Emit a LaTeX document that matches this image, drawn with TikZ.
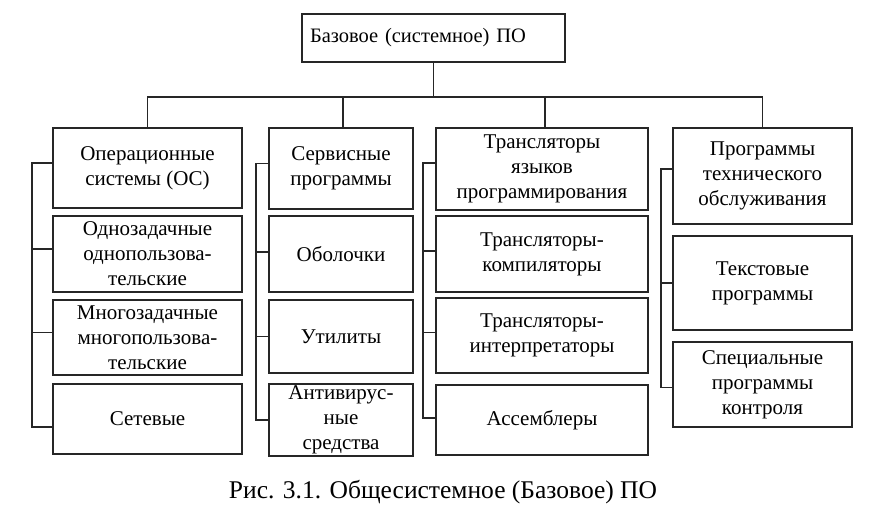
\documentclass[tikz,border=0pt]{standalone}
\usepackage{fontspec}
\setmainfont{Liberation Serif}
\begin{document}
\begin{tikzpicture}[x=1pt,y=-1pt,
  bx/.style={draw=black!85,line width=1.6pt,rectangle,inner sep=0pt,align=center,
    font=\fontsize{21}{25}\selectfont,text=black},
  ln/.style={draw=black!85,line width=1.6pt}]
\useasboundingbox (0,0) rectangle (875,515);
% top
\node[bx,minimum width=263,minimum height=48,align=left,text width=247,font=\fontsize{20.5}{25}\selectfont] (top) at (433.5,38) {Базовое (системное) ПО};
% column 1
\node[bx,minimum width=189,minimum height=80] (c1a) at (147.5,168) {Операционные\\системы (ОС)};
\node[bx,minimum width=189,minimum height=76] (c1b) at (147.5,254) {Однозадачные\\однопользова-\\тельские};
\node[bx,minimum width=189,minimum height=75] (c1c) at (147.5,337.5) {Многозадачные\\многопользова-\\тельские};
\node[bx,minimum width=189,minimum height=70] (c1d) at (147.5,419) {Сетевые};
% column 2
\node[bx,minimum width=144,minimum height=81] (c2a) at (341,168.5) {Сервисные\\программы};
\node[bx,minimum width=144,minimum height=76] (c2b) at (341,254) {Оболочки};
\node[bx,minimum width=144,minimum height=73] (c2c) at (341,336.5) {Утилиты};
\node[bx,minimum width=144,minimum height=72] (c2d) at (341,420) {Антивирус-\\ные\\средства};
% column 3
\node[bx,minimum width=212,minimum height=82] (c3a) at (542,169) {Трансляторы\\языков\\программирования};
\node[bx,minimum width=212,minimum height=76] (c3b) at (542,254) {Трансляторы-\\компиляторы};
\node[bx,minimum width=212,minimum height=75] (c3c) at (542,335.5) {Трансляторы-\\интерпретаторы};
\node[bx,minimum width=212,minimum height=70] (c3d) at (542,420) {Ассемблеры};
% column 4
\node[bx,minimum width=179,minimum height=96] (c4a) at (762.5,176) {Программы\\технического\\обслуживания};
\node[bx,minimum width=179,minimum height=94] (c4b) at (762.5,283) {Текстовые\\программы};
\node[bx,minimum width=179,minimum height=85] (c4c) at (762.5,384.5) {Специальные\\программы\\контроля};
% caption
\node[font=\fontsize{25.5}{30}\selectfont] (cap) at (443,492) {Рис. 3.1. Общесистемное (Базовое) ПО};
% tree connectors
\coordinate (bus) at (433.5,97);
\draw[ln] (top.south) -- (bus);
\draw[ln] (c1a.north) |- (bus) -| (c4a.north);
\draw[ln] ([xshift=2]c2a.north) -- ([xshift=2]c2a.north |- bus);
\draw[ln] ([xshift=3]c3a.north) -- ([xshift=3]c3a.north |- bus);
% brackets
\draw[ln] ([yshift=5]c1a.west) -- ++(-20,0) |- ([yshift=-8]c1d.west);
\draw[ln] ([yshift=5]c1b.west) -- ++(-20,0);
\draw[ln] ([yshift=5]c1c.west) -- ++(-20,0);
\draw[ln] ([yshift=5]c2a.west) -- ++(-12,0) |- (c2d.west);
\draw[ln] ([yshift=2]c2b.west) -- ++(-12,0);
\draw[ln] (c2c.west) -- ++(-12,0);
\draw[ln] ([yshift=6]c3a.west) -- ++(-12,0) |- ([yshift=2]c3d.west);
\draw[ln] ([yshift=3]c3b.west) -- ++(-12,0);
\draw[ln] ([yshift=3]c3c.west) -- ++(-12,0);
\draw[ln] ([yshift=7]c4a.west) -- ++(-11,0) |- ([yshift=-3]c4c.west);
\draw[ln] (c4b.west) -- ++(-11,0);
\end{tikzpicture}
\end{document}
